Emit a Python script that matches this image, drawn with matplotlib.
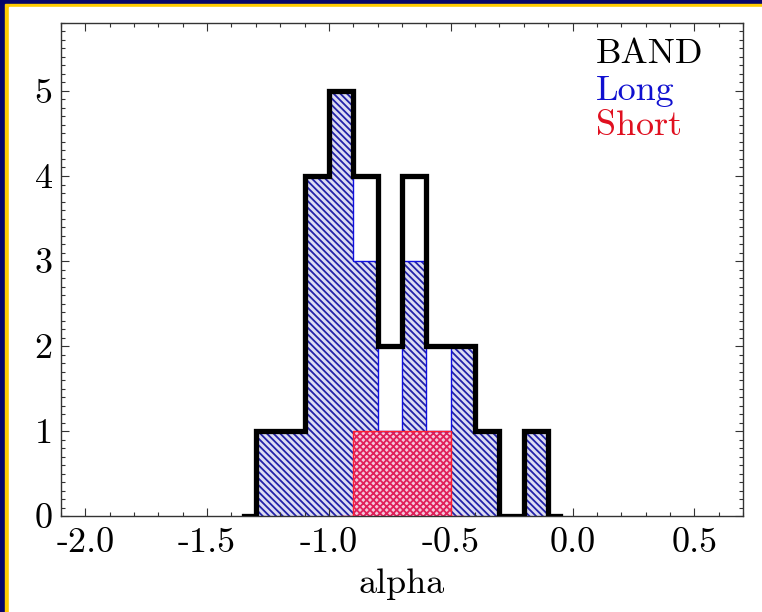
import matplotlib
matplotlib.use('Agg')
import matplotlib.pyplot as plt
from matplotlib.patches import Rectangle
from matplotlib.ticker import MultipleLocator

plt.rcParams['font.family'] = 'cmr10'
plt.rcParams['axes.unicode_minus'] = False
plt.rcParams['axes.formatter.use_mathtext'] = False
plt.rcParams['hatch.linewidth'] = 1.3

# bin centres (IDL psym=10 style, zero padding at both ends)
centers = [-1.35, -1.25, -1.15, -1.05, -0.95, -0.85, -0.75, -0.65,
           -0.55, -0.45, -0.35, -0.25, -0.15, -0.05]
band = [0, 1, 1, 4, 5, 4, 2, 4, 2, 2, 1, 0, 1, 0]
long_grb = [0, 1, 1, 4, 5, 3, 1, 3, 1, 2, 1, 0, 1, 0]

short_centers = [-0.95, -0.85, -0.75, -0.65, -0.55, -0.45]
short_grb = [0, 1, 1, 1, 1, 0]

labels = ['BAND', 'Long', 'Short']
label_colors = ['black', '#1010d0', '#e01020']

navy = '#06066a'
yellow = '#ffcc00'
blue = '#2222a8'
red = '#e0205a'

fig = plt.figure(figsize=(7.62, 6.12), dpi=100, facecolor=navy)
W, H = 762, 612
fig.patches.append(Rectangle((5 / W, -0.1), 1.2, 1 - 4 / H + 0.1,
                             transform=fig.transFigure, color=yellow, zorder=-2))
fig.patches.append(Rectangle((9 / W, -0.1), 1.2, 1 - 7 / H + 0.1,
                             transform=fig.transFigure, color='white', zorder=-1))

ax = fig.add_axes([61 / W, 1 - 516 / H, (743 - 61) / W, (516 - 23) / H])

# long GRBs: blue hatch
ax.fill_between(centers, long_grb, step='mid', facecolor='#dcdcf2',
                edgecolor=blue, hatch='\\\\\\\\\\', linewidth=0, zorder=1)
# short GRBs: red cross-hatch
ax.fill_between(short_centers, short_grb, step='mid', facecolor='#f4c8dc',
                edgecolor=red, hatch='xxxxx', linewidth=0, zorder=2)

ax.step(centers, long_grb, where='mid', color='#1010e0', lw=1.0, zorder=3)
ax.step(short_centers, short_grb, where='mid', color='#ff2030', lw=1.0, zorder=4)
ax.step(centers, band, where='mid', color='black', lw=3.8, zorder=5,
        solid_joinstyle='miter')

ax.set_xlim(-2.1, 0.7)
ax.set_ylim(0, 5.8)
ax.xaxis.set_major_locator(MultipleLocator(0.5))
ax.xaxis.set_minor_locator(MultipleLocator(0.1))
ax.yaxis.set_major_locator(MultipleLocator(1))
ax.yaxis.set_minor_locator(MultipleLocator(0.1))
ax.xaxis.set_major_formatter(plt.FuncFormatter(lambda v, p: f'{v:.1f}'))
ax.yaxis.set_major_formatter(plt.FuncFormatter(lambda v, p: f'{v:.0f}'))
ax.tick_params(which='both', direction='in', top=True, right=True,
               width=0.8, labelsize=26, color='#333333')
ax.tick_params(which='major', length=6)
ax.tick_params(which='minor', length=3)
ax.tick_params(axis='x', pad=8)
ax.tick_params(axis='y', pad=6)
for s in ax.spines.values():
    s.set_linewidth(1.0)
    s.set_color('#333333')

ax.set_xlabel('alpha', fontsize=26, labelpad=7)

ys = [0.919, 0.844, 0.773]
for lab, col, yy in zip(labels, label_colors, ys):
    ax.text(0.784, yy, lab, color=col, fontsize=26, transform=ax.transAxes,
            ha='left', va='baseline')

fig.savefig('out.png', dpi=100, facecolor=navy)
